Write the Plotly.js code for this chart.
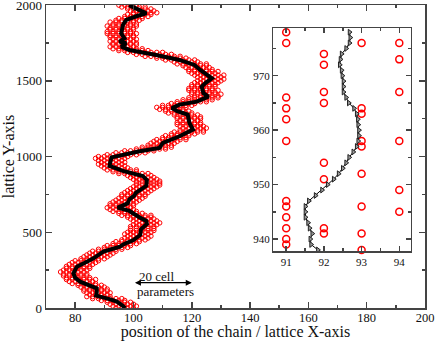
<!DOCTYPE html>
<html>
<head>
<meta charset="utf-8">
<script src="https://cdn.plot.ly/plotly-3.0.1.min.js"></script>
<style>
  html, body { margin: 0; padding: 0; background: #fff; }
  #plot { width: 436px; height: 341px; }
</style>
</head>
<body>
<div id="plot"></div>
<script>
// running average of the chain (main plot), y descending
const avgY = [2000, 1975, 1946, 1930, 1902, 1869, 1814, 1781, 1759, 1748, 1726, 1704, 1690, 1671, 1638, 1605,
  1572, 1540, 1517, 1490, 1462, 1418, 1396, 1363, 1343, 1320, 1300, 1277, 1222, 1178, 1134, 1090, 1057, 1035,
  1010, 995, 960, 938, 905, 872, 845, 806, 762, 740, 718, 691, 663, 641, 600, 575, 555, 520, 482, 449, 420,
  405, 372, 350, 328, 300, 273, 229, 200, 174, 150, 130, 100, 82, 59, 42, 20, 0];
const avgX = [98.5, 101.5, 104.4, 101.5, 97.5, 96.4, 95.8, 96.9, 95.2, 97.5, 95.8, 98.6, 103, 107.8, 115.8, 120.9,
  122.9, 125, 126.9, 125, 123.4, 124, 125.7, 121.7, 115.8, 113.2, 115, 118.6, 119.2, 120.4, 115.8, 110.1, 108.9, 102.1,
  96, 92.5, 92, 91.8, 96.4, 103.2, 104.6, 104.4, 100.9, 100.2, 98.6, 98, 94.6, 98.6, 102, 104.4, 104.6, 102.6, 102.3, 100, 96.5,
  95.4, 89.7, 88, 86.3, 83.5, 80.6, 79.4, 80, 81.7, 85, 87.4, 87.4, 87.2, 91.8, 94.3, 96, 97.2];

// chain monomer positions, read row by row: [y, x values]
const chainRows = [
  [2000, [95, 97, 99, 101]],
  [1988, [96, 98, 100, 102, 104]],
  [1975, [98, 100, 102, 104, 106]],
  [1962, [99, 101, 103, 105, 107]],
  [1950, [100, 102, 104, 106, 108]],
  [1938, [98, 100, 102, 104, 106]],
  [1925, [97, 99, 101, 103, 105]],
  [1912, [95, 97, 99, 101, 103]],
  [1900, [94, 96, 98, 100, 102]],
  [1888, [92, 94, 96, 98, 100]],
  [1875, [93, 95, 97, 99, 101]],
  [1862, [91, 93, 95, 97, 99, 101]],
  [1850, [92, 94, 96, 98, 100]],
  [1838, [92, 94, 96, 98, 100]],
  [1825, [91, 93, 95, 97, 99]],
  [1812, [91, 93, 95, 97, 99, 101]],
  [1800, [92, 94, 96, 98, 100]],
  [1788, [92, 94, 96, 98, 100]],
  [1775, [93, 95, 97, 99, 101]],
  [1762, [92, 94, 96, 98, 100]],
  [1750, [93, 95, 97, 99, 101]],
  [1738, [93, 95, 97, 99, 101]],
  [1725, [92, 94, 96, 98, 100]],
  [1712, [93, 95, 97, 99, 101, 103]],
  [1700, [95, 97, 99, 101, 103, 105]],
  [1688, [98, 100, 102, 104, 106, 108, 110]],
  [1675, [101, 103, 105, 107, 109, 111, 113]],
  [1662, [104, 106, 108, 110, 112, 114, 116]],
  [1650, [108, 110, 112, 114, 116, 118]],
  [1638, [111, 113, 115, 117, 119, 121]],
  [1625, [114, 116, 118, 120, 122]],
  [1612, [115, 117, 119, 121, 123, 125]],
  [1600, [117, 119, 121, 123, 125]],
  [1588, [118, 120, 122, 124, 126]],
  [1575, [119, 121, 123, 125, 127]],
  [1562, [119, 121, 123, 125, 127, 129]],
  [1550, [120, 122, 124, 126, 128]],
  [1538, [121, 123, 125, 127, 129, 131]],
  [1525, [122, 124, 126, 128, 130]],
  [1512, [123, 125, 127, 129, 131]],
  [1500, [122, 124, 126, 128, 130]],
  [1488, [121, 123, 125, 127, 129]],
  [1475, [120, 122, 124, 126, 128]],
  [1462, [120, 122, 124, 126, 128]],
  [1450, [119, 121, 123, 125, 127]],
  [1438, [119, 121, 123, 125, 127, 129]],
  [1425, [120, 122, 124, 126, 128]],
  [1412, [120, 122, 124, 126, 128, 130]],
  [1400, [121, 123, 125, 127, 129]],
  [1388, [119, 121, 123, 125, 127, 129]],
  [1375, [117, 119, 121, 123, 125, 127]],
  [1362, [115, 117, 119, 121, 123, 125]],
  [1350, [113, 115, 117, 119, 121]],
  [1338, [110, 112, 114, 116, 118, 120]],
  [1325, [108, 110, 112, 114, 116, 118]],
  [1312, [109, 111, 113, 115, 117]],
  [1300, [111, 113, 115, 117, 119]],
  [1288, [112, 114, 116, 118, 120]],
  [1275, [114, 116, 118, 120, 122]],
  [1262, [115, 117, 119, 121, 123]],
  [1250, [115, 117, 119, 121, 123]],
  [1238, [116, 118, 120, 122]],
  [1225, [115, 117, 119, 121, 123]],
  [1212, [115, 117, 119, 121, 123]],
  [1200, [116, 118, 120, 122, 124]],
  [1188, [117, 119, 121, 123, 125]],
  [1175, [116, 118, 120, 122, 124]],
  [1162, [114, 116, 118, 120, 122, 124]],
  [1150, [113, 115, 117, 119, 121]],
  [1138, [111, 113, 115, 117, 119]],
  [1125, [110, 112, 114, 116, 118]],
  [1112, [108, 110, 112, 114, 116, 118]],
  [1100, [107, 109, 111, 113, 115]],
  [1088, [106, 108, 110, 112, 114]],
  [1075, [105, 107, 109, 111, 113]],
  [1062, [103, 105, 107, 109, 111, 113]],
  [1050, [101, 103, 105, 107, 109, 111]],
  [1038, [97, 99, 101, 103, 105, 107]],
  [1025, [94, 96, 98, 100, 102, 104]],
  [1012, [91, 93, 95, 97, 99, 101]],
  [1000, [88, 90, 92, 94, 96, 98]],
  [988, [87, 89, 91, 93, 95, 97]],
  [975, [88, 90, 92, 94, 96]],
  [962, [89, 91, 93, 95, 97]],
  [950, [88, 90, 92, 94, 96]],
  [938, [89, 91, 93, 95, 97]],
  [925, [90, 92, 94, 96, 98]],
  [912, [91, 93, 95, 97, 99, 101]],
  [900, [93, 95, 97, 99, 101]],
  [888, [95, 97, 99, 101, 103, 105]],
  [875, [98, 100, 102, 104, 106]],
  [862, [99, 101, 103, 105, 107]],
  [850, [100, 102, 104, 106, 108]],
  [838, [101, 103, 105, 107, 109]],
  [825, [101, 103, 105, 107, 109]],
  [812, [101, 103, 105, 107, 109]],
  [800, [100, 102, 104, 106, 108]],
  [788, [99, 101, 103, 105, 107]],
  [775, [98, 100, 102, 104, 106]],
  [762, [97, 99, 101, 103, 105]],
  [750, [96, 98, 100, 102, 104]],
  [738, [96, 98, 100, 102, 104]],
  [725, [95, 97, 99, 101, 103]],
  [712, [94, 96, 98, 100, 102]],
  [700, [93, 95, 97, 99, 101]],
  [688, [92, 94, 96, 98, 100]],
  [675, [92, 94, 96, 98, 100]],
  [662, [91, 93, 95, 97, 99]],
  [650, [92, 94, 96, 98, 100]],
  [638, [93, 95, 97, 99, 101]],
  [625, [95, 97, 99, 101, 103]],
  [612, [96, 98, 100, 102, 104, 106]],
  [600, [98, 100, 102, 104, 106]],
  [588, [99, 101, 103, 105, 107]],
  [575, [100, 102, 104, 106, 108]],
  [562, [101, 103, 105, 107, 109]],
  [550, [100, 102, 104, 106, 108]],
  [538, [99, 101, 103, 105, 107]],
  [525, [99, 101, 103, 105, 107]],
  [512, [99, 101, 103, 105, 107]],
  [500, [98, 100, 102, 104, 106]],
  [488, [97, 99, 101, 103, 105]],
  [475, [98, 100, 102, 104, 106]],
  [462, [97, 99, 101, 103, 105]],
  [450, [96, 98, 100, 102, 104]],
  [438, [94, 96, 98, 100, 102]],
  [425, [93, 95, 97, 99, 101]],
  [412, [91, 93, 95, 97, 99]],
  [400, [90, 92, 94, 96, 98]],
  [388, [88, 90, 92, 94, 96]],
  [375, [86, 88, 90, 92, 94]],
  [362, [85, 87, 89, 91, 93]],
  [350, [84, 86, 88, 90, 92]],
  [338, [83, 85, 87, 89, 91]],
  [325, [82, 84, 86, 88, 90]],
  [312, [80, 82, 84, 86, 88]],
  [300, [79, 81, 83, 85, 87]],
  [288, [78, 80, 82, 84, 86]],
  [275, [77, 79, 81, 83, 85]],
  [262, [77, 79, 81, 83, 85]],
  [250, [76, 78, 80, 82, 84]],
  [238, [75, 77, 79, 81, 83]],
  [225, [76, 78, 80, 82, 84]],
  [212, [76, 78, 80, 82, 84]],
  [200, [77, 79, 81, 83, 85]],
  [188, [77, 79, 81, 83, 85, 87]],
  [175, [78, 80, 82, 84, 86]],
  [162, [79, 81, 83, 85, 87]],
  [150, [81, 83, 85, 87, 89]],
  [138, [82, 84, 86, 88, 90]],
  [125, [83, 85, 87, 89, 91]],
  [112, [83, 85, 87, 89, 91]],
  [100, [84, 86, 88, 90, 92]],
  [88, [85, 87, 89, 91]],
  [75, [84, 86, 88, 90, 92]],
  [62, [86, 88, 90, 92, 94, 96]],
  [50, [89, 91, 93, 95, 97]],
  [38, [91, 93, 95, 97, 99]],
  [25, [92, 94, 96, 98, 100]],
  [12, [93, 95, 97, 99, 101]],
  [0, [94, 96, 98, 100]]
];

// inset: lattice sites at x = 91..94
const siteY91 = [978, 976, 966, 964, 962, 958, 947, 946, 944, 942, 940, 939];
const siteY92 = [974, 972, 967, 965, 954, 951, 942, 941];
const siteY93 = [976, 964, 963, 958, 957, 952, 946, 941, 938];
const siteY94 = [976, 973, 967, 958, 949, 945];

// inset: averaged path
const insetY = [978, 977, 976, 975, 974, 973, 972, 971, 970, 969, 968, 967, 966, 965, 964, 963, 962, 961, 960,
  959, 958, 957, 956, 955, 954, 953, 952, 951, 950, 949, 948, 947, 946, 945, 944, 943, 942, 941, 940, 939, 938];
const insetX = [92.68, 92.70, 92.68, 92.59, 92.47, 92.44, 92.42, 92.47, 92.49, 92.52, 92.52, 92.52, 92.59, 92.66,
  92.80, 92.87, 92.90, 92.91, 92.93, 92.93, 92.91, 92.87, 92.78, 92.67, 92.59, 92.50, 92.39, 92.26, 92.10,
  91.95, 91.78, 91.60, 91.51, 91.51, 91.51, 91.58, 91.62, 91.69, 91.64, 91.66, 91.84];

const chainX = [], chainY = [];
chainRows.forEach(([y, xs]) => xs.forEach(x => { chainX.push(x); chainY.push(y); }));

const siteX = [], siteY = [];
[[91, siteY91], [92, siteY92], [93, siteY93], [94, siteY94]].forEach(([x, ys]) =>
  ys.forEach(y => { siteX.push(x); siteY.push(y); }));

const serif = 'Liberation Serif';
const axisCol = '#444';

const data = [
  {
    x: chainX, y: chainY, type: 'scatter', mode: 'markers',
    marker: { symbol: 'circle-open', size: 4.5, color: 'red', line: { width: 1, color: 'red' } }
  },
  {
    x: avgX, y: avgY, type: 'scatter', mode: 'lines',
    line: { color: 'black', width: 4 }
  },
  {
    x: siteX, y: siteY, xaxis: 'x2', yaxis: 'y2', type: 'scatter', mode: 'markers',
    marker: { symbol: 'circle-open', size: 7, color: 'red', line: { width: 1.5, color: 'red' } },
    cliponaxis: false
  },
  {
    x: insetX, y: insetY, xaxis: 'x2', yaxis: 'y2', type: 'scatter', mode: 'lines+markers',
    line: { color: 'black', width: 1 },
    marker: { symbol: 'triangle-right', size: 5, color: '#999', line: { width: 1, color: '#222' } }
  }
];

const axBase = {
  showgrid: false, zeroline: false, showline: true, linecolor: axisCol, linewidth: 1.5,
  mirror: 'allticks', ticks: 'inside', tickcolor: axisCol, tickwidth: 1.5,
  tickfont: { family: serif, size: 13, color: '#111' }, ticklabeloverflow: 'allow'
};

const layout = {
  width: 436, height: 341,
  margin: { l: 46, r: 11, t: 5, b: 33 },
  paper_bgcolor: 'white', plot_bgcolor: 'white',
  showlegend: false,
  font: { family: serif, color: '#111' },
  xaxis: Object.assign({}, axBase, {
    range: [70, 200], dtick: 20, tick0: 0, ticklen: 6, ticklabelstandoff: -3,
    tickfont: { family: serif, size: 12.5, color: '#111' },
    minor: { dtick: 10, ticks: 'inside', ticklen: 3, tickcolor: axisCol, tickwidth: 1.5 },
    title: { text: 'position of the chain / lattice X-axis', font: { family: serif, size: 16 }, standoff: 3 }
  }),
  yaxis: Object.assign({}, axBase, {
    range: [0, 2001], dtick: 500, ticklen: 6,
    minor: { dtick: 250, ticks: 'inside', ticklen: 3, tickcolor: axisCol, tickwidth: 1.5 },
    title: { text: 'lattice Y-axis', font: { family: serif, size: 16 }, standoff: 0 }
  }),
  xaxis2: Object.assign({}, axBase, {
    domain: [0.600, 0.962], anchor: 'y2',
    range: [90.66, 94.3], dtick: 1, tick0: 0, ticklen: 5,
    minor: { dtick: 0.5, ticks: 'inside', ticklen: 3, tickcolor: axisCol, tickwidth: 1.5 },
    tickfont: { family: serif, size: 11, color: '#111' }
  }),
  yaxis2: Object.assign({}, axBase, {
    domain: [0.188, 0.923], anchor: 'x2',
    range: [937.8, 978.7], dtick: 10, tick0: 0, ticklen: 5,
    minor: { dtick: 5, ticks: 'inside', ticklen: 3, tickcolor: axisCol, tickwidth: 1.5 },
    tickfont: { family: serif, size: 11, color: '#111' }
  }),
  annotations: [
    {
      x: 120, y: 167, ax: 100, ay: 167, xref: 'x', yref: 'y', axref: 'x', ayref: 'y',
      text: '', showarrow: true, arrowhead: 2, startarrowhead: 2, arrowside: 'end+start',
      arrowsize: 1, arrowwidth: 1.2, arrowcolor: 'black'
    },
    {
      x: 108, y: 207, xref: 'x', yref: 'y', text: '20 cell', showarrow: false,
      font: { family: serif, size: 13, color: '#111' }
    },
    {
      x: 111, y: 108, xref: 'x', yref: 'y', text: 'parameters', showarrow: false,
      font: { family: serif, size: 13, color: '#111' }
    }
  ]
};

Plotly.newPlot('plot', data, layout, { displayModeBar: false, staticPlot: true });
</script>
</body>
</html>
